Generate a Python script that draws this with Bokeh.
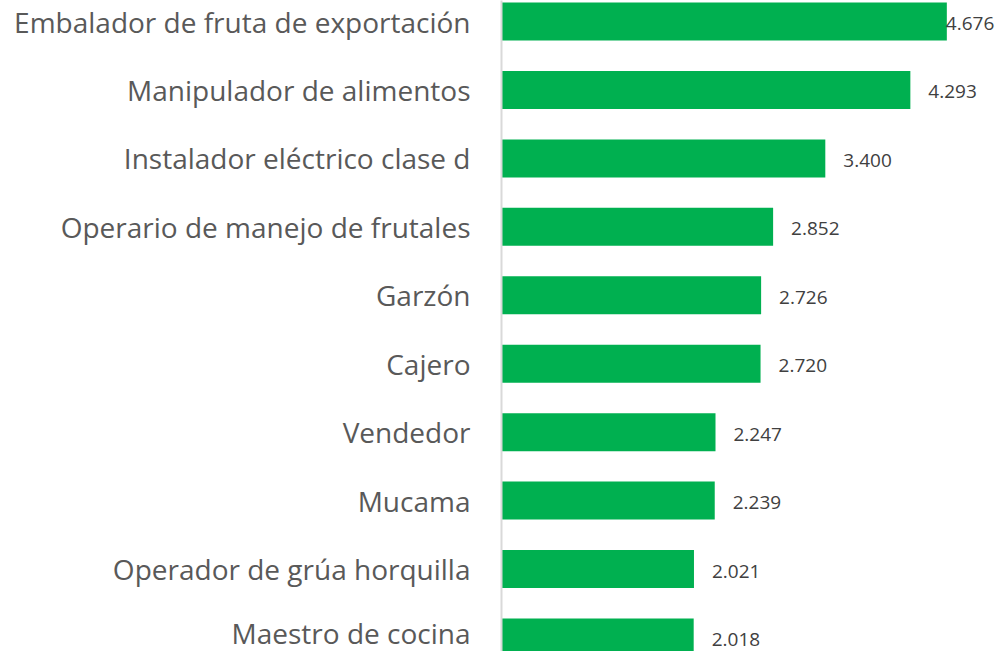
from bokeh.plotting import figure
from bokeh.models import ColumnDataSource, Range1d, FixedTicker
from bokeh.core.properties import value
from bokeh.embed import file_html
from bokeh.resources import INLINE

ocupaciones = [
    "Embalador de fruta de exportación",
    "Manipulador de alimentos",
    "Instalador eléctrico clase d",
    "Operario de manejo de frutales",
    "Garzón",
    "Cajero",
    "Vendedor",
    "Mucama",
    "Operador de grúa horquilla",
    "Maestro de cocina",
]
valores = [4676, 4293, 3400, 2852, 2726, 2720, 2247, 2239, 2021, 2018]

idx = list(range(len(ocupaciones)))
etiquetas = [f"{v:,}".replace(",", ".") for v in valores]
offsets = [-1 if v > 4500 else 18 for v in valores]

src = ColumnDataSource(dict(y=idx, v=valores, lab=etiquetas, off=offsets))

p = figure(width=1001, height=651, output_backend="svg", toolbar_location=None,
           x_range=Range1d(0, 5250), y_range=Range1d(9.205, -0.307),
           min_border_left=501, min_border_right=0, min_border_top=0,
           min_border_bottom=0, x_axis_location=None)

p.hbar(y="y", right="v", left=0, height=0.555, source=src,
       fill_color="#00B050", line_color=None)
p.text(x="v", y="y", text="lab", source=src, x_offset="off", y_offset=2,
       text_align="left", text_baseline="middle",
       text_font=value("Open Sans"), text_font_size="19px", text_color="#404040")

ax = p.yaxis[0]
ax.ticker = FixedTicker(ticks=idx)
ax.major_label_overrides = {i: n for i, n in zip(idx, ocupaciones)}
ax.major_label_text_font = "Open Sans"
ax.major_label_text_font_size = "28px"
ax.major_label_text_color = "#595959"
ax.major_label_standoff = 25
ax.major_tick_line_color = None
ax.minor_tick_line_color = None
ax.axis_line_color = "#d9d9d9"
ax.axis_line_width = 2

p.xgrid.visible = False
p.ygrid.visible = False
p.outline_line_color = None

open("out.html", "w").write(file_html(p, INLINE))
